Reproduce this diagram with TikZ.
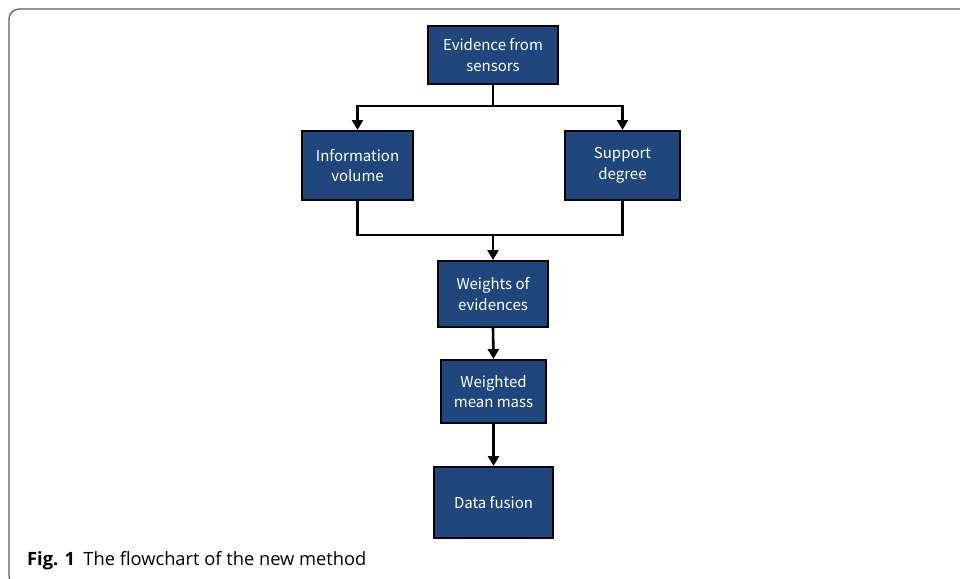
\documentclass[tikz,border=0pt]{standalone}
\usepackage{fontspec}
\setmainfont{Open Sans}
\newfontfamily\boxfont{Noto Sans CJK SC}
\usetikzlibrary{arrows.meta}
\definecolor{boxblue}{RGB}{31,71,125}
\definecolor{framegray}{RGB}{90,90,90}
\tikzset{
  flowbox/.style={draw=black, line width=2pt, fill=boxblue, text=white,
    font=\boxfont\fontsize{15}{20.5}\selectfont, align=center, inner sep=0pt},
  conn/.style={draw=black, line width=2.6pt},
  arr/.style={conn, -{Triangle[length=10pt,width=11pt]}}
}
\begin{document}
\begin{tikzpicture}[x=1pt,y=-1pt]
\useasboundingbox (0,0) rectangle (960,578);
\draw[framegray, line width=1.2pt, rounded corners=10pt] (975,586) -- (9,586) -- (9,9) -- (975,9);
\node[flowbox, minimum width=130pt, minimum height=58pt] (ev) at (493,55) {Evidence from\\sensors};
\node[flowbox, minimum width=111pt, minimum height=69pt] (iv) at (357.5,165.5) {Information\\volume};
\node[flowbox, minimum width=115pt, minimum height=69pt] (sd) at (622.5,165.5) {Support\\degree};
\node[flowbox, minimum width=110pt, minimum height=66pt] (we) at (493,294) {Weights of\\evidences};
\node[flowbox, minimum width=105pt, minimum height=63pt] (wm) at (493.5,391.5) {Weighted\\mean mass};
\node[flowbox, minimum width=119pt, minimum height=71pt] (df) at (493.5,502.5) {Data fusion};
\coordinate (split) at (493,106);
\coordinate (join) at (493,235);
\draw[conn] (ev.south) -- (split);
\draw[arr] (split) -| (iv.north);
\draw[arr] (split) -| (sd.north);
\draw[conn] (iv.south) |- (join);
\draw[conn] (sd.south) |- (join);
\draw[arr] (join) -- (we.north);
\draw[arr] (we.south) -- (wm.north);
\draw[arr] (wm.south) -- (df.north);
\node[anchor=base west, inner sep=0pt, font=\fontsize{18.3}{20}\selectfont] (cap) at (27,565) {\textbf{Fig. 1}\hspace{0.45em}The flowchart of the new method};
\end{tikzpicture}
\end{document}
